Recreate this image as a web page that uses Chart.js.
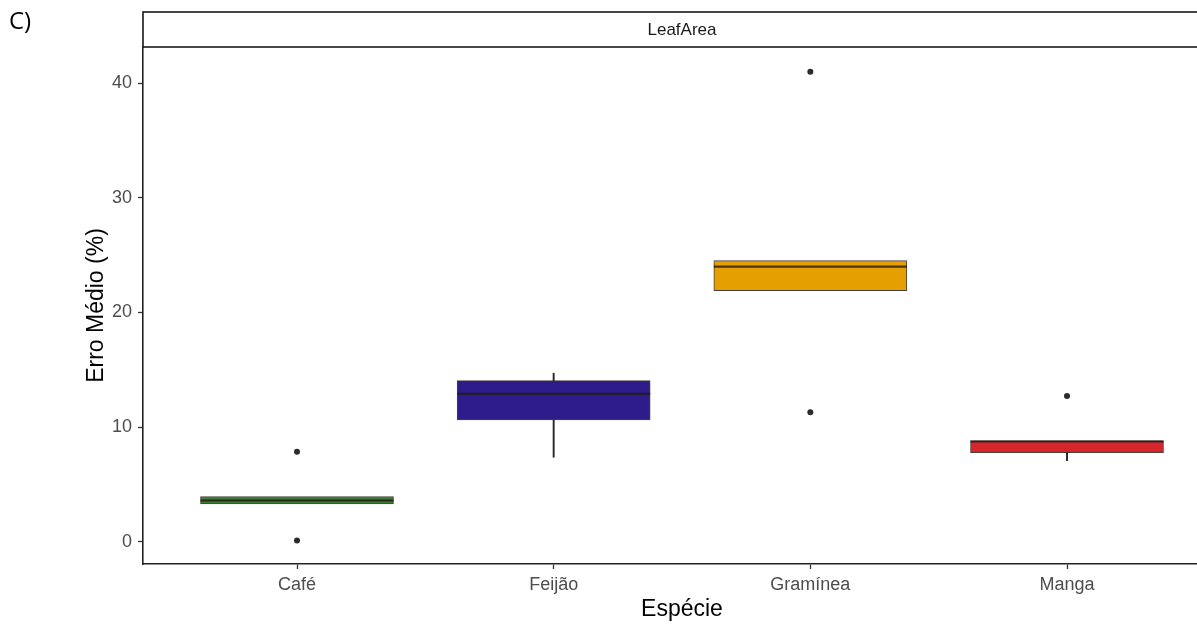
<!DOCTYPE html>
<html>
<head>
<meta charset="utf-8">
<script src="https://cdn.jsdelivr.net/npm/chart.js@4.4.1/dist/chart.umd.min.js"></script>
<style>
  html, body { margin: 0; padding: 0; background: #fff; overflow: hidden; }
  #wrap { width: 1197px; height: 624px; overflow: hidden; }
</style>
</head>
<body>
<div id="wrap"><canvas id="boxChart" width="1240" height="624"></canvas></div>
<script>
const especies = ['Café', 'Feijão', 'Gramínea', 'Manga'];
const q1 = [3.3, 10.62, 21.9, 7.77];
const mediana = [3.6, 12.89, 23.99, 8.75];
const q3 = [3.95, 14.05, 24.52, 8.79];
const bigodeInf = [3.3, 7.37, 21.9, 7.07];
const bigodeSup = [3.95, 14.70, 24.52, 8.79];
const outliers = [[7.86, 0.1], [], [41.0, 11.29], [12.72]];
const cores = ['#3b7a33', '#2d1c8a', '#e69f00', '#d6262b'];
const yTicks = [0, 10, 20, 30, 40];

const boxWidth = 193;
const fonte = '"Liberation Sans", Arial, sans-serif';

// medians, strip, axis titles and panel letter
const extras = {
    id: 'extras',
    afterDatasetsDraw(chart) {
        const ctx = chart.ctx;
        const xs = chart.scales.x, ys = chart.scales.y;
        ctx.save();
        ctx.strokeStyle = 'rgba(35,25,20,0.8)';
        ctx.lineWidth = 2.2;
        mediana.forEach((m, i) => {
            const cx = xs.getPixelForValue(i + 1);
            const py = ys.getPixelForValue(m);
            ctx.beginPath();
            ctx.moveTo(cx - boxWidth / 2, py);
            ctx.lineTo(cx + boxWidth / 2, py);
            ctx.stroke();
        });
        ctx.restore();
    },
    afterDraw(chart) {
        const ctx = chart.ctx;
        const a = chart.chartArea;
        ctx.save();
        // strip
        ctx.fillStyle = '#fff';
        ctx.fillRect(a.left, 12, a.right - a.left, a.top - 12);
        ctx.strokeStyle = '#1a1a1a';
        ctx.lineWidth = 1.6;
        ctx.strokeRect(a.left, 12, a.right - a.left, a.top - 12);
        ctx.fillStyle = '#1a1a1a';
        ctx.font = '17px ' + fonte;
        ctx.textAlign = 'center';
        ctx.textBaseline = 'middle';
        const mid = (a.left + a.right) / 2;
        ctx.fillText('LeafArea', mid, 30);
        // x title
        ctx.fillStyle = '#000';
        ctx.font = '23px ' + fonte;
        ctx.fillText('Espécie', mid, 610);
        // y title
        ctx.translate(97, (a.top + a.bottom) / 2);
        ctx.rotate(-Math.PI / 2);
        ctx.fillText('Erro Médio (%)', 0, 0);
        ctx.restore();
        ctx.save();
        ctx.fillStyle = '#000';
        ctx.font = '24px "Open Sans", sans-serif';
        ctx.textAlign = 'left';
        ctx.textBaseline = 'middle';
        ctx.fillText('C)', 9, 22);
        ctx.restore();
    }
};

const boxData = especies.map((e, i) => ({ x: i + 1, y: [q1[i], q3[i]] }));
const lowData = especies.map((e, i) => ({ x: i + 1, y: bigodeInf[i] < q1[i] ? [bigodeInf[i], q1[i]] : null }));
const highData = especies.map((e, i) => ({ x: i + 1, y: bigodeSup[i] > q3[i] ? [q3[i], bigodeSup[i]] : null }));
const pontos = [];
outliers.forEach((list, i) => list.forEach(v => pontos.push({ x: i + 1, y: v })));

new Chart(document.getElementById('boxChart'), {
    type: 'bar',
    data: {
        datasets: [
            {
                type: 'scatter',
                data: pontos,
                pointRadius: 3,
                pointBackgroundColor: '#2b2b2b',
                pointBorderWidth: 0,
                order: 1
            },
            {
                data: boxData,
                backgroundColor: cores,
                borderColor: 'rgba(40,30,25,0.85)',
                borderWidth: 1,
                borderSkipped: false,
                barThickness: boxWidth,
                grouped: false,
                order: 2
            },
            {
                data: lowData,
                backgroundColor: '#2b2b2b',
                borderWidth: 0,
                barThickness: 1.3,
                grouped: false,
                order: 3
            },
            {
                data: highData,
                backgroundColor: '#2b2b2b',
                borderWidth: 0,
                barThickness: 1.3,
                grouped: false,
                order: 3
            }
        ]
    },
    options: {
        responsive: false,
        animation: false,
        layout: { padding: { top: 47, right: 19, left: 0, bottom: 0 } },
        plugins: {
            legend: { display: false },
            tooltip: { enabled: false }
        },
        scales: {
            x: {
                type: 'linear',
                min: 0.4,
                max: 4.6,
                offset: false,
                afterBuildTicks: s => { s.ticks = especies.map((e, i) => ({ value: i + 1 })); },
                afterFit: s => { s.height = 60; },
                ticks: {
                    callback: v => especies[v - 1],
                    color: '#4d4d4d',
                    font: { family: fonte, size: 18 },
                    padding: 5,
                    maxRotation: 0,
                    autoSkip: false
                },
                grid: { offset: false, drawOnChartArea: false, drawTicks: true, tickLength: 5, color: '#333', tickWidth: 1.3 },
                border: { display: true, color: '#222', width: 1.6 }
            },
            y: {
                min: -1.94,
                max: 43.15,
                afterBuildTicks: s => { s.ticks = yTicks.map(v => ({ value: v })); },
                afterFit: s => { s.width = 143; },
                ticks: {
                    color: '#4d4d4d',
                    font: { family: fonte, size: 18 },
                    padding: 6
                },
                grid: { drawOnChartArea: false, drawTicks: true, tickLength: 5, color: '#333', tickWidth: 1.3 },
                border: { display: true, color: '#222', width: 1.6 }
            }
        }
    },
    plugins: [extras]
});
</script>
</body>
</html>
